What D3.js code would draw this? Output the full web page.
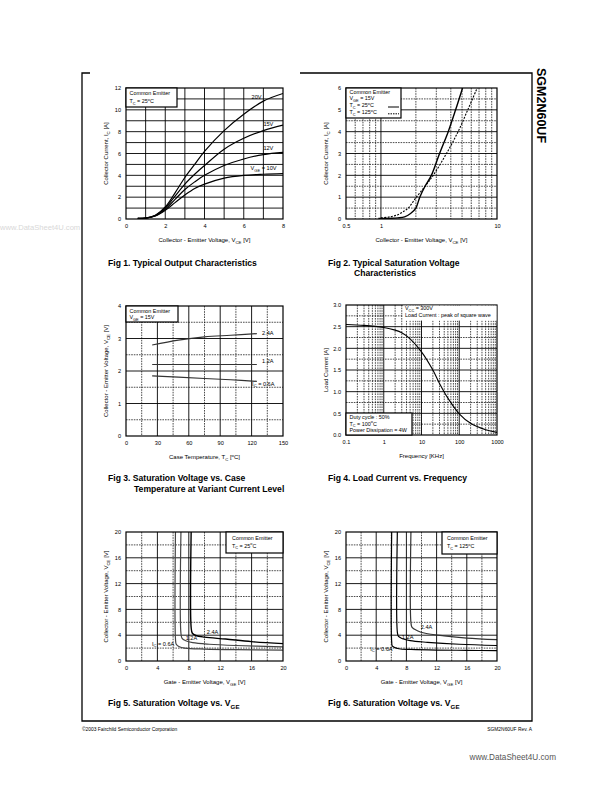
<!DOCTYPE html>
<html><head><meta charset="utf-8">
<script src="https://cdn.jsdelivr.net/npm/d3@7"></script>
<style>body{margin:0;background:#fff}svg text{font-family:"Liberation Sans",Arial,sans-serif}</style>
</head><body>
<svg id="page" width="612" height="792"></svg>
<script>
// ---------- DATA ----------
// Fig 1: Typical output characteristics (VCE [V] vs IC [A])
const f1Vce   = [0.6, 1.0, 1.5, 2.0, 2.5, 3.0, 3.5, 4.0, 5.0, 6.0, 7.0, 8.0];
const f1Ic20V = [0.05,0.08,0.35,1.1, 2.4, 3.8, 5.0, 6.2, 8.1, 9.6, 10.8,11.5];
const f1Ic15V = [0.05,0.08,0.33,1.0, 2.1, 3.2, 4.1, 4.9, 6.4, 7.4, 8.1, 8.6];
const f1Ic12V = [0.05,0.08,0.30,0.9, 1.8, 2.7, 3.4, 4.0, 4.9, 5.5, 5.9, 6.1];
const f1Ic10V = [0.05,0.08,0.28,0.8, 1.5, 2.2, 2.8, 3.2, 3.75,4.0, 4.1, 4.15];
const f1XTicks = [0,2,4,6,8], f1XLabels = ['0','2','4','6','8'];
const f1YTicks = [0,2,4,6,8,10,12], f1YLabels = ['0','2','4','6','8','10','12'];

// Fig 2: Typical saturation voltage characteristics
const f2Vce25  = [0.95,1.2, 1.4, 1.6, 1.8, 2.0, 2.16,2.4, 2.72,3.2, 3.8, 4.4, 5.05];
const f2Ic25   = [0.02,0.03,0.05,0.1, 0.25,0.5, 1.0, 1.5, 2.0, 3.0, 4.0, 5.0, 6.0];
const f2Vce125 = [1.0, 1.2, 1.4, 1.6, 1.72,2.02,2.4, 2.82,3.67,4.62,5.6, 6.75];
const f2Ic125  = [0.05,0.1, 0.2, 0.38,0.5, 1.0, 1.5, 2.0, 3.0, 4.0, 5.0, 6.0];
const f2XTicks = [0.5,1,10], f2XLabels = ['0.5','1','10'];
const f2YTicks = [0,1,2,3,4,5,6], f2YLabels = ['0','1','2','3','4','5','6'];

// Fig 3: Saturation voltage vs case temperature
const f3Tc    = [25, 50, 75, 100, 125];
const f3V24A  = [2.8, 2.95, 3.05, 3.1, 3.15];
const f3V12A  = [2.2, 2.2, 2.2, 2.2, 2.2];
const f3V06A  = [1.85, 1.81, 1.77, 1.73, 1.68];
const f3XTicks = [0,30,60,90,120,150], f3XLabels = ['0','30','60','90','120','150'];
const f3YTicks = [0,1,2,3,4], f3YLabels = ['0','1','2','3','4'];

// Fig 4: Load current vs frequency
const f4Freq = [0.1, 0.3, 1, 2, 3, 5, 10, 20, 30, 50, 100, 200, 500, 1000];
const f4Load = [2.55,2.53,2.48,2.42,2.36,2.22,1.92,1.5,1.19,0.85,0.49,0.27,0.12,0.06];
const f4XTicks = [0.1,1,10,100,1000], f4XLabels = ['0.1','1','10','100','1000'];
const f4YTicks = [0,0.5,1,1.5,2,2.5,3], f4YLabels = ['0.0','0.5','1.0','1.5','2.0','2.5','3.0'];

// Fig 5: Saturation voltage vs VGE, Tc = 25C
const f5Vge06 = [6.3, 6.3, 6.4, 6.8, 7.5, 10, 14, 20];
const f5Vce06 = [20, 3.5, 2.6, 2.2, 2.0, 1.85, 1.75, 1.7];
const f5Vge12 = [7.0, 7.0, 7.15, 7.6, 8.5, 10.6, 14, 20];
const f5Vce12 = [20, 4.3, 3.5, 3.15, 2.85, 2.6, 2.4, 2.2];
const f5Vge24 = [8.3, 8.3, 8.45, 8.9, 10, 12.7, 16, 20];
const f5Vce24 = [20, 5.2, 4.3, 3.95, 3.7, 3.4, 3.0, 2.7];

// Fig 6: Saturation voltage vs VGE, Tc = 125C
const f6Vge06 = [6.05, 6.05, 6.15, 7.0, 8.6, 12, 16, 20];
const f6Vce06 = [20, 3.0, 2.3, 1.9, 1.8, 1.7, 1.65, 1.6];
const f6Vge12 = [6.8, 6.8, 6.95, 7.5, 8.5, 10.8, 15, 20];
const f6Vce12 = [20, 4.5, 3.8, 3.45, 3.15, 2.9, 2.6, 2.4];
const f6Vge24 = [8.6, 8.6, 8.75, 9.45, 10.5, 13, 16, 20];
const f6Vce24 = [20, 6.0, 5.2, 4.7, 4.3, 3.9, 3.55, 3.3];
const f56Ticks = [0,4,8,12,16,20], f56Labels = ['0','4','8','12','16','20'];

// ---------- DRAWING ----------
const svg = d3.select('#page');
const FF = '"Liberation Sans",Arial,sans-serif';

function rich(t, str, fs){
  const re=/([_^])\{([^}]*)\}/g; let last=0,m; const parts=[];
  while((m=re.exec(str))){ if(m.index>last) parts.push({t:str.slice(last,m.index),k:''}); parts.push({t:m[2],k:m[1]}); last=re.lastIndex; }
  if(last<str.length) parts.push({t:str.slice(last),k:''});
  let cur=0;
  parts.forEach(p=>{
    const target = p.k==='_'? fs*0.3 : p.k==='^'? -fs*0.4 : 0;
    const ts=t.append('tspan').text(p.t).attr('dy', target-cur);
    if(p.k) ts.attr('font-size', fs*0.72);
    cur=target;
  });
  return t;
}
function txt(g, x, y, str, fs, opt={}){
  const t=g.append('text').attr('x',x).attr('y',y).attr('font-size',fs).attr('fill',opt.fill||'#000')
    .attr('font-weight',opt.bold?'bold':'normal').attr('text-anchor',opt.anchor||'start');
  if(opt.transform) t.attr('transform',opt.transform);
  return rich(t,str,fs);
}
const range=(a,b,s)=>d3.range(a,b+1e-9,s);
const logMinors=(d0,d1)=>{const r=[];for(let e=d0;e<d1;e*=10)for(let k=2;k<=9;k++)r.push(e*k);return r;};

let clipId=0;
function chart(c){
  const g=svg.append('g');
  const x=(c.log?d3.scaleLog():d3.scaleLinear()).domain(c.xDom).range([c.L,c.R]);
  const y=d3.scaleLinear().domain(c.yDom).range([c.B,c.T]);
  const vl=(vals,dash)=>g.append('g').selectAll('line').data(vals).join('line')
    .attr('x1',d=>x(d)).attr('x2',d=>x(d)).attr('y1',c.T).attr('y2',c.B)
    .attr('stroke','#000').attr('stroke-width',dash?0.7:0.9).attr('stroke-dasharray',dash?'1.6,1':null);
  const hl=(vals,dash)=>g.append('g').selectAll('line').data(vals).join('line')
    .attr('y1',d=>y(d)).attr('y2',d=>y(d)).attr('x1',c.L).attr('x2',c.R)
    .attr('stroke','#000').attr('stroke-width',dash?0.7:0.9).attr('stroke-dasharray',dash?'1.6,1':null);
  vl(c.xDash,true); hl(c.yDash,true); vl(c.xSolid,false); hl(c.ySolid,false);
  // axes (labels only)
  const ax=g.append('g').attr('transform',`translate(0,${c.B})`)
    .call(d3.axisBottom(x).tickValues(c.xTicks).tickFormat((d,i)=>c.xLabels[i]).tickSize(0).tickPadding(5));
  const ay=g.append('g').attr('transform',`translate(${c.L},0)`)
    .call(d3.axisLeft(y).tickValues(c.yTicks).tickFormat((d,i)=>c.yLabels[i]).tickSize(0).tickPadding(5));
  [ax,ay].forEach(a=>{a.select('.domain').remove();a.attr('font-size',5.6).attr('font-family',FF);});
  // axis titles
  txt(g,(c.L+c.R)/2,c.B+23,c.xTitle,6,{anchor:'middle'});
  txt(g,0,0,c.yTitle,6,{anchor:'middle',transform:`translate(${c.L-18},${(c.T+c.B)/2}) rotate(-90)`});
  // clip
  const id='clip'+(clipId++);
  svg.append('clipPath').attr('id',id).append('rect').attr('x',c.L).attr('y',c.T).attr('width',c.R-c.L).attr('height',c.B-c.T);
  const cg=g.append('g').attr('clip-path',`url(#${id})`);
  c.series.forEach(s=>{
    const pts=d3.zip(s.x,s.y);
    cg.append('path').datum(pts).attr('fill','none').attr('stroke',s.color||'#000').attr('stroke-width',s.w||1.2)
      .attr('stroke-dasharray',s.dash||null)
      .attr('d',d3.line().x(d=>x(d[0])).y(d=>y(d[1])).curve(d3.curveCatmullRom.alpha(0.5)));
  });
  (c.labels||[]).forEach(l=>txt(g,x(l.x),y(l.y),l.t,5.6));
  // frame
  g.append('rect').attr('x',c.L).attr('y',c.T).attr('width',c.R-c.L).attr('height',c.B-c.T)
    .attr('fill','none').attr('stroke','#000').attr('stroke-width',1.2);
  // legend boxes
  (c.boxes||[]).forEach(b=>{
    g.append('rect').attr('x',b.x).attr('y',b.y).attr('width',b.w).attr('height',b.h)
      .attr('fill','#fff').attr('stroke',b.noStroke?'none':'#000').attr('stroke-width',1.2);
    b.lines.forEach((s,i)=>txt(g,b.x+(b.pad||3.5),b.y+b.first+i*b.step,s,5.4));
    (b.samples||[]).forEach(sm=>g.append('line').attr('x1',sm.x1).attr('x2',sm.x2).attr('y1',sm.y).attr('y2',sm.y)
      .attr('stroke','#000').attr('stroke-width',1).attr('stroke-dasharray',sm.dash||null));
  });
  return {x,y,g};
}

// Page frame
const pf=svg.append('g').attr('stroke','#000').attr('stroke-width',1.3).attr('fill','none');
pf.append('path').attr('d','M90,73 H82 V721 H532 V73 H300');

// Fig 1
chart({L:126,R:283,T:88,B:219,xDom:[0,8],yDom:[0,12],
  xSolid:range(1,7,1),xDash:[],ySolid:range(1,11,1),yDash:[],
  xTicks:f1XTicks,xLabels:f1XLabels,yTicks:f1YTicks,yLabels:f1YLabels,
  xTitle:'Collector - Emitter Voltage, V_{CE} [V]',yTitle:'Collector Current, I_{C} [A]',
  series:[{x:f1Vce,y:f1Ic20V},{x:f1Vce,y:f1Ic15V},{x:f1Vce,y:f1Ic12V},{x:f1Vce,y:f1Ic10V}],
  labels:[{x:6.4,y:11.0,t:'20V'},{x:7.0,y:8.55,t:'15V'},{x:7.0,y:6.3,t:'12V'},{x:6.35,y:4.45,t:'V_{GE} = 10V'}],
  boxes:[{x:126,y:88,w:51,h:19,first:7,step:8,lines:['Common Emitter','T_{C} = 25^{o}C']}]});

// Fig 2
chart({L:346,R:497,T:88,B:219,log:true,xDom:[0.5,10],yDom:[0,6],
  xSolid:[1],xDash:[0.6,0.7,0.8,0.9].concat(logMinors(1,10)),ySolid:range(1,5,1),yDash:range(0.5,5.5,1),
  xTicks:f2XTicks,xLabels:f2XLabels,yTicks:f2YTicks,yLabels:f2YLabels,
  xTitle:'Collector - Emitter Voltage, V_{CE} [V]',yTitle:'Collector Current, I_{C} [A]',
  series:[{x:f2Vce25,y:f2Ic25,w:1.4},{x:f2Vce125,y:f2Ic125,w:1.1,dash:'2,1.3'}],
  boxes:[{x:346,y:88,w:55,h:30,first:5.5,step:6.8,
    lines:['Common Emitter','V_{GE} = 15V','T_{C} =   25^{o}C','T_{C} = 125^{o}C'],
    samples:[{x1:388,x2:399,y:107},{x1:388,x2:399,y:113.8,dash:'1.5,1'}]}]});

// Fig 3
chart({L:126,R:283,T:306,B:436,xDom:[0,150],yDom:[0,4],
  xSolid:[30,60,90,120],xDash:[15,45,75,105,135],ySolid:[1,2,3],yDash:[0.5,1.5,2.5,3.5],
  xTicks:f3XTicks,xLabels:f3XLabels,yTicks:f3YTicks,yLabels:f3YLabels,
  xTitle:'Case Temperature, T_{C} [^{o}C]',yTitle:'Collector - Emitter Voltage, V_{CE} [V]',
  series:[{x:f3Tc,y:f3V24A,color:'#333'},{x:f3Tc,y:f3V12A,color:'#333'},{x:f3Tc,y:f3V06A,color:'#333'}],
  labels:[{x:130,y:3.1,t:'2.4A'},{x:130,y:2.25,t:'1.2A'},{x:120.5,y:1.55,t:'I_{C} = 0.6A'}],
  boxes:[{x:126,y:306,w:52,h:16,first:6.5,step:6.5,lines:['Common Emitter','V_{GE} = 15V']}]});

// Fig 4
chart({L:346,R:497,T:305,B:435,log:true,xDom:[0.1,1000],yDom:[0,3],
  xSolid:[1,10,100],xDash:logMinors(0.1,1000),ySolid:range(0.5,2.5,0.5),yDash:range(0.25,2.75,0.5),
  xTicks:f4XTicks,xLabels:f4XLabels,yTicks:f4YTicks,yLabels:f4YLabels,
  xTitle:'Frequency [KHz]',yTitle:'Load Current [A]',
  series:[{x:f4Freq,y:f4Load,w:1.1}],
  boxes:[{x:403,y:305.6,w:93.5,h:15,noStroke:true,pad:2,first:4.5,step:7,lines:['V_{CC} = 300V','Load Current : peak of square wave']},
         {x:346,y:413,w:66,h:22,first:6,step:6.6,lines:['Duty cycle : 50%','T_{C} = 100^{o}C','Power Dissipation = 4W']}]});

// Fig 5
chart({L:126,R:283,T:532,B:661,xDom:[0,20],yDom:[0,20],
  xSolid:[4,8,12,16],xDash:[2,6,10,14,18],ySolid:[4,8,12,16],yDash:[2,6,10,14,18],
  xTicks:f56Ticks,xLabels:f56Labels,yTicks:f56Ticks,yLabels:f56Labels,
  xTitle:'Gate - Emitter Voltage, V_{GE} [V]',yTitle:'Collector - Emitter Voltage, V_{CE} [V]',
  series:[{x:f5Vge06,y:f5Vce06,color:'#444'},{x:f5Vge12,y:f5Vce12,color:'#444'},{x:f5Vge24,y:f5Vce24,w:1.4}],
  labels:[{x:3.3,y:2.4,t:'I_{C} = 0.6A'},{x:7.6,y:3.25,t:'1.2A'},{x:10.3,y:4.25,t:'2.4A'}],
  boxes:[{x:226,y:532,w:57,h:21,pad:6,first:8,step:7.5,lines:['Common Emitter','T_{C} = 25^{o}C']}]});

// Fig 6
chart({L:346,R:497,T:532,B:661,xDom:[0,20],yDom:[0,20],
  xSolid:[4,8,12,16],xDash:[2,6,10,14,18],ySolid:[4,8,12,16],yDash:[2,6,10,14,18],
  xTicks:f56Ticks,xLabels:f56Labels,yTicks:f56Ticks,yLabels:f56Labels,
  xTitle:'Gate - Emitter Voltage, V_{GE} [V]',yTitle:'Collector - Emitter Voltage, V_{CE} [V]',
  series:[{x:f6Vge06,y:f6Vce06},{x:f6Vge12,y:f6Vce12},{x:f6Vge24,y:f6Vce24,color:'#333'}],
  labels:[{x:3.2,y:1.6,t:'I_{C} = 0.6A'},{x:7.4,y:3.4,t:'1.2A'},{x:9.9,y:5.0,t:'2.4A'}],
  boxes:[{x:442,y:532,w:55,h:22,pad:5,first:8,step:8,lines:['Common Emitter','T_{C} = 125^{o}C']}]});

// Captions
const cap=svg.append('g');
txt(cap,108,266,'Fig 1. Typical Output Characteristics',8.6,{bold:true});
txt(cap,328,266,'Fig 2. Typical Saturation Voltage',8.6,{bold:true});
txt(cap,354,276,'Characteristics',8.6,{bold:true});
txt(cap,108,481,'Fig 3. Saturation Voltage vs. Case',8.6,{bold:true});
txt(cap,134,492,'Temperature at Variant Current Level',8.6,{bold:true});
txt(cap,328,481,'Fig 4. Load Current vs. Frequency',8.6,{bold:true});
txt(cap,108,706,'Fig 5. Saturation Voltage vs. V_{GE}',8.6,{bold:true});
txt(cap,328,706,'Fig 6. Saturation Voltage vs. V_{GE}',8.6,{bold:true});

// Side title, footer, watermarks
txt(svg,0,0,'SGM2N60UF',12.5,{bold:true,transform:'translate(537,68) rotate(90)'});
txt(svg,82,731,'©2003 Fairchild Semiconductor Corporation',4.9);
txt(svg,532,731,'SGM2N60UF Rev. A',4.9,{anchor:'end'});
txt(svg,556,760,'www.DataSheet4U.com',8.2,{anchor:'end',fill:'#555'});
txt(svg,0,230,'www.DataSheet4U.com',7.6,{fill:'#d8d8d8'});
</script>
</body></html>
